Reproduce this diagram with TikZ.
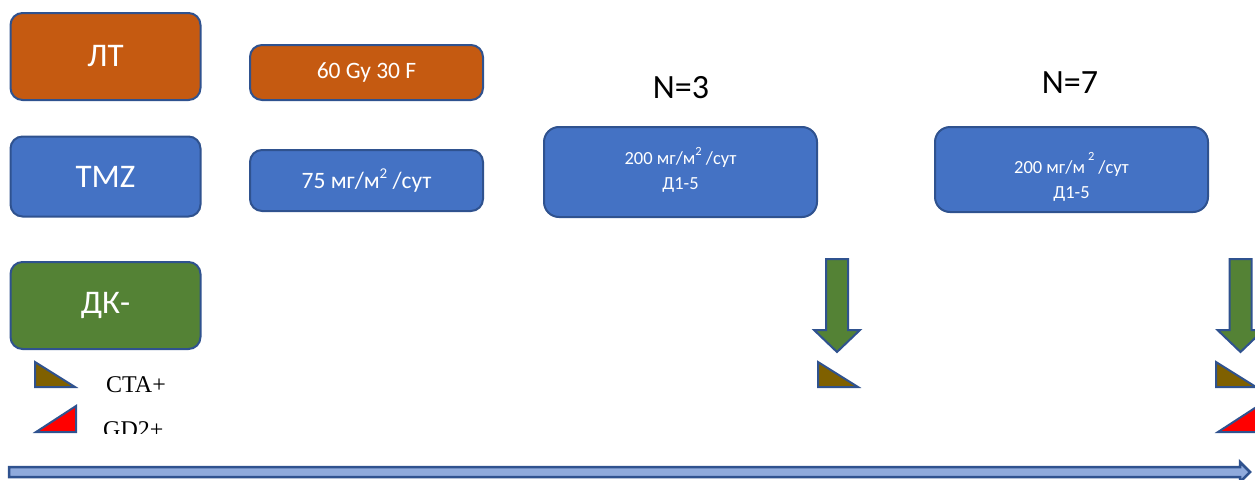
\documentclass[tikz,border=0pt]{standalone}
\usepackage{fontspec}
\setmainfont{Carlito}
\newfontfamily\timesf{Liberation Serif}
\definecolor{bord}{HTML}{2F528F}
\definecolor{orng}{HTML}{C55A11}
\definecolor{blu}{HTML}{4472C4}
\definecolor{grn}{HTML}{548235}
\definecolor{brwn}{HTML}{7F6000}
\definecolor{lblu}{HTML}{8FAADC}
\newcommand{\supr}[1]{\raisebox{0.45em}{\fontsize{15}{15}\selectfont #1}}
\tikzset{
  box/.style={draw=bord, line width=2pt, rounded corners=12pt, text=white, inner sep=0pt, align=center},
  bigtxt/.style={font=\fontsize{33}{36}\selectfont},
  midtxt/.style={font=\fontsize{23.5}{26}\selectfont},
  smalltxt/.style={font=\fontsize{18.5}{25}\selectfont},
  ntxt/.style={font=\fontsize{34}{36}\selectfont, text=black, inner sep=0pt},
  legtxt/.style={font=\timesf\fontsize{24}{26}\selectfont, text=black, inner sep=0pt, anchor=base west},
  downarrow/.style={draw=bord, fill=grn, line width=2pt, line join=miter},
  tri/.style={draw=bord, line width=2pt, line join=miter},
}
\begin{document}
\begin{tikzpicture}[x=1pt,y=-1pt]
\useasboundingbox (0,0) rectangle (1255,479);
\clip (0,0) rectangle (1255,479);

% left labels
\node (lt)  [box, bigtxt, fill=orng, minimum width=190pt, minimum height=87pt] at (105.5,56.5) {ЛТ};
\node (tmz) [box, bigtxt, fill=blu,  minimum width=190pt, minimum height=80pt] at (105.5,176.5) {TMZ};
\node (dk)  [box, bigtxt, fill=grn,  minimum width=190pt, minimum height=87pt] at (105.5,305.5) {\raisebox{3pt}{ДК-}};

% second column
\node (gy)   [box, midtxt, fill=orng, minimum width=233pt, minimum height=55pt] at (366.5,72.5) {60 Gy 30 F};
\node (mg75) [box, midtxt, fill=blu,  minimum width=233pt, minimum height=61pt] at (366.5,180.5) {75 мг/м\supr{2} /сут};

% N labels
\node (n3) [ntxt] at (681,88) {N=3};
\node (n7) [ntxt] at (1070,83) {N=7};

% cycle boxes
\node (b3) [box, fill=blu, rounded corners=15pt, minimum width=273pt, minimum height=90pt] at (680.5,172) {};
\node (t3) [text=white, smalltxt, align=center, inner sep=0pt] at ([yshift=2pt]b3.center) {200 мг/м\raisebox{0.45em}{\fontsize{12.5}{12.5}\selectfont 2} /сут\\Д1-5};
\node (b7) [box, fill=blu, rounded corners=15pt, minimum width=273pt, minimum height=85pt] at (1071.5,169.5) {};
\node (t7) [text=white, smalltxt, align=center, inner sep=0pt] at ([yshift=-7pt]b7.center) {200 мг/м\kern3pt\raisebox{0.7em}{\fontsize{12.5}{12.5}\selectfont 2}\kern4pt /сут\\Д1-5};

% green down arrows
\foreach \cx in {837,1240.5}{
  \draw[downarrow] (\cx-11,259) -- (\cx+11,259) -- (\cx+11,330) -- (\cx+23,330) -- (\cx,352) -- (\cx-23,330) -- (\cx-11,330) -- cycle;
}

% brown triangles
\foreach \x in {35,818,1216}{
  \draw[tri, fill=brwn] (\x,362) -- (\x,387) -- (\x+40,387) -- cycle;
}
% red triangles
\foreach \x in {36,1218}{
  \draw[tri, fill=red] (\x,432) -- (\x+40,432) -- (\x+40,406) -- cycle;
}

% legend texts
\node (cta) [legtxt] at (106,392) {CTA+};
\begin{scope}
  \clip (90,400) rectangle (200,433);
  \node (gd2) [legtxt] at (103,437) {GD2+};
\end{scope}

% time axis arrow
\draw[draw=bord, fill=lblu, line width=2.5pt, line join=miter] (9,467) -- (1240,467) -- (1240,462) -- (1250,472) -- (1240,482) -- (1240,477) -- (9,477) -- cycle;
\end{tikzpicture}
\end{document}
